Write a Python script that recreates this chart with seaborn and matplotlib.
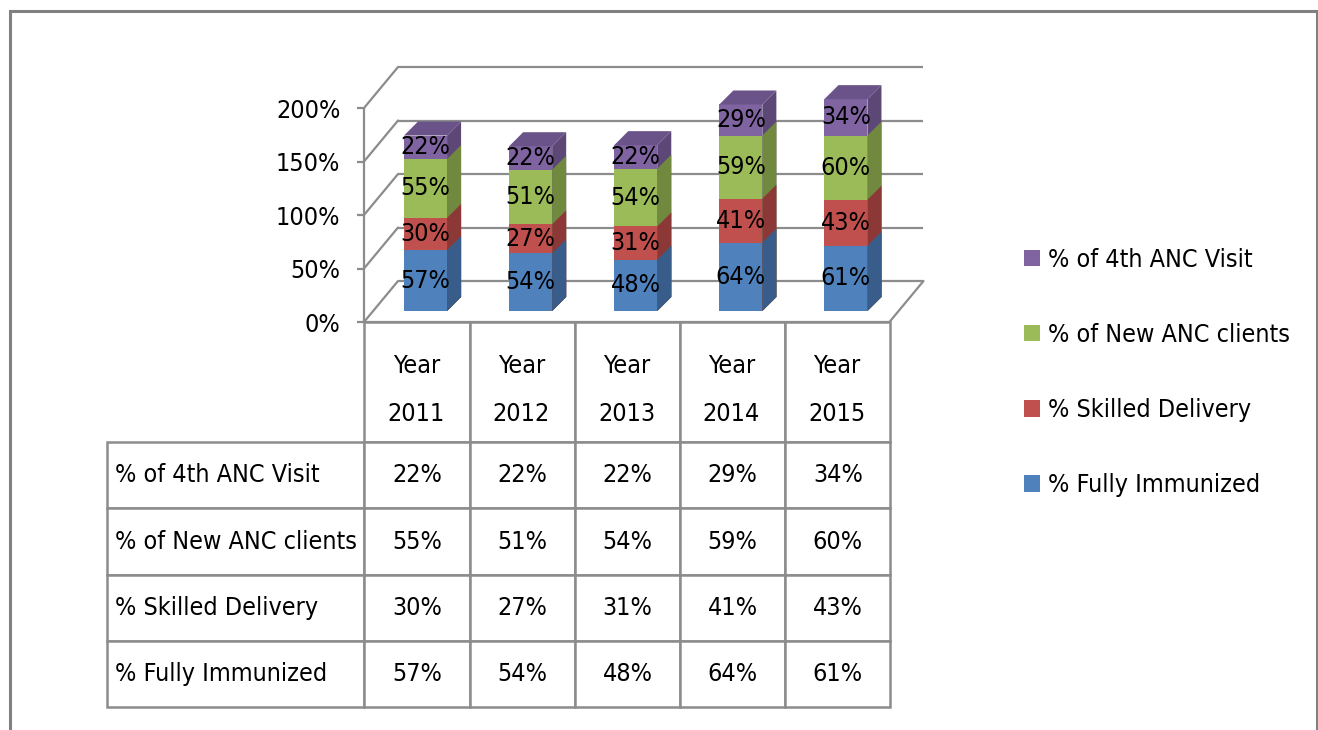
import numpy as np
import matplotlib
matplotlib.use("Agg")
import matplotlib.pyplot as plt
from matplotlib.patches import Polygon, Rectangle, Patch
from matplotlib import font_manager as fm
import seaborn as sns

# ---------------- data ----------------
years = ["Year\n2011", "Year\n2012", "Year\n2013", "Year\n2014", "Year\n2015"]
series_names = ["% Fully Immunized", "% Skilled Delivery", "% of New ANC clients", "% of 4th ANC Visit"]
fully_immunized = [57, 54, 48, 64, 61]
skilled_delivery = [30, 27, 31, 41, 43]
new_anc_clients = [55, 51, 54, 59, 60]
fourth_anc_visit = [22, 22, 22, 29, 34]
y_tick_values = [0, 50, 100, 150, 200]

front_colors = ["#4F81BD", "#C0504D", "#9BBB59", "#8064A2"]
side_colors = ["#385D8A", "#8C3836", "#71893F", "#5C4776"]
top_colors = ["#41699B", "#A04340", "#82A04A", "#6A5389"]

# ---------------- style / font choice ----------------
sns.set_style("white")


def pick_font():
    entries = fm.fontManager.ttflist
    names = {f.name for f in entries}
    if "Liberation Sans Narrow" in names:
        return "Liberation Sans Narrow", "normal"
    for fam in ["Noto Sans", "DejaVu Sans", "Open Sans", "Roboto", "Liberation Sans"]:
        for st in ["condensed", "semi-condensed", "extra-condensed"]:
            for f in entries:
                if f.name == fam and f.stretch == st and f.style == "normal" and f.weight in (400, "normal", "regular"):
                    return fam, st
    for f in entries:
        if ("Condensed" in f.name or "Narrow" in f.name) and f.style == "normal":
            return f.name, "normal"
    return "Liberation Sans", "normal"


FAM, STRETCH = pick_font()
plt.rcParams["font.family"] = [FAM, "DejaVu Sans"]
plt.rcParams["font.stretch"] = STRETCH
plt.rcParams["text.color"] = "black"
FS = 18
GRID = "#8C8C8C"

W, H = 1318, 730
fig = plt.figure(figsize=(W / 100, H / 100), dpi=100)
fig.patch.set_facecolor("white")

# geometry (pixel based layout)
X0, SX = 426.0, 105.0   # bar front-face centre of first category, px per category
Y0, SY = 311.0, 1.07    # bar baseline, px per percent
FX, FY = (417 - X0) / SX, (Y0 - 322) / SY          # front plane offset
BX, BY = FX + 34 / SX, FY + 41 / SY                 # back plane offset
BDX, BDY = 14 / SX, 14 / SY                          # bar depth
BAR_W = 43 / SX

ax_l, ax_r, ax_t, ax_b = 364, 935, 55, 322
ax = fig.add_axes([ax_l / W, 1 - ax_b / H, (ax_r - ax_l) / W, (ax_b - ax_t) / H])

stack = np.array([fully_immunized, skilled_delivery, new_anc_clients, fourth_anc_visit])
cum = stack.cumsum(axis=0)

# draw stacked bars: tallest cumulative first
order_k = [3, 2, 1, 0]
for k in order_k:
    sns.barplot(x=years, y=cum[k], order=years, color=front_colors[k], width=BAR_W,
                saturation=1, errorbar=None, linewidth=0, ax=ax, zorder=3)

patches = list(ax.patches)
n = len(years)
for j, k in enumerate(order_k):
    for i in range(n):
        p = patches[j * n + i]
        x0, y0 = p.get_x(), p.get_y()
        x1, y1 = x0 + p.get_width(), y0 + p.get_height()
        side = Polygon([(x1, y0), (x1 + BDX, y0 + BDY), (x1 + BDX, y1 + BDY), (x1, y1)],
                       closed=True, facecolor=side_colors[k], edgecolor="none", zorder=3)
        ax.add_patch(side)
        if k == 3:
            top = Polygon([(x0, y1), (x1, y1), (x1 + BDX, y1 + BDY), (x0 + BDX, y1 + BDY)],
                          closed=True, facecolor=top_colors[k], edgecolor="none", zorder=3)
            ax.add_patch(top)

# segment labels
for k in range(4):
    for i in range(n):
        ymid = cum[k][i] - stack[k][i] / 2
        ax.text(i, ymid, f"{stack[k][i]}%", ha="center", va="center", fontsize=FS,
                color="black", zorder=5)

# 3-D box: back wall, left wall, floor
xl_f, xr_f = -0.5 + FX, n - 0.5 + FX
xl_b, xr_b = -0.5 + BX, n - 0.5 + BX
for t in y_tick_values:
    ax.plot([xl_b, xr_b], [t + BY, t + BY], color=GRID, lw=1.6, zorder=1, solid_capstyle="butt")
    ax.plot([xl_f, xl_b], [t + FY, t + BY], color=GRID, lw=1.6, zorder=1)
ax.plot([xr_f, xr_b], [FY, BY], color=GRID, lw=1.6, zorder=1)
ax.plot([xl_f, xr_f], [FY, FY], color=GRID, lw=1.6, zorder=1, clip_on=False)

ax.set_xlim(xl_f, (ax_r - X0) / SX)
ax.set_ylim((Y0 - ax_b) / SY, (Y0 - ax_t) / SY)
ax.set_xticks([])
ax.set_xlabel("")
ax.set_ylabel("")
ax.set_yticks([t + FY for t in y_tick_values])
ax.set_yticklabels([f"{t}%" for t in y_tick_values], fontsize=FS)
ax.tick_params(axis="y", direction="out", length=5, width=1.6, color=GRID,
               labelcolor="black", pad=12, left=True)
for s in ["top", "right", "bottom"]:
    ax.spines[s].set_visible(False)
ax.spines["left"].set_color(GRID)
ax.spines["left"].set_linewidth(1.6)
ax.spines["left"].set_bounds(FY, 200 + FY)
ax.patch.set_alpha(0)

# ---------------- data table ----------------
tb_l, tb_r, tb_t, tb_b = 108, 890, 322, 707
LBL_W, COL_W, HDR_H, ROW_H = 256, 105, 120, 66
tot_w, tot_h = tb_r - tb_l, tb_b - tb_t
tax = fig.add_axes([tb_l / W, 1 - tb_b / H, tot_w / W, tot_h / H])
tax.axis("off")
tax.set_xlim(0, 1)
tax.set_ylim(0, 1)
row_labels = series_names[::-1]
rows = [fourth_anc_visit, new_anc_clients, skilled_delivery, fully_immunized]
cell_text = [[f"{v}%" for v in r] for r in rows]
table = tax.table(cellText=cell_text, rowLabels=row_labels, colLabels=[""] * len(years),
                  cellLoc="center", rowLoc="left",
                  bbox=[LBL_W / tot_w, 0, 1 - LBL_W / tot_w, 1])
table.auto_set_font_size(False)
table.set_fontsize(FS)
for (r, c), cell in table.get_celld().items():
    cell.set_edgecolor(GRID)
    cell.set_linewidth(1.8)
    cell.set_width((LBL_W if c == -1 else COL_W) / tot_w)
    cell.set_height((HDR_H if r == 0 else ROW_H) / tot_h)
    txt = cell.get_text()
    txt.set_fontsize(FS)
    txt.set_color("black")
    if c == -1:
        cell.PAD = 0.03

# header labels (Year / 20xx)
for i, lab in enumerate(years):
    cx = (LBL_W + COL_W * (i + 0.5)) / tot_w
    tax.text(cx, (tb_b - 390) / tot_h, lab, ha="center", va="center", fontsize=FS,
             linespacing=2.3, color="black")

# ---------------- legend ----------------
handles = [Patch(facecolor=front_colors[k], edgecolor="none") for k in [3, 2, 1, 0]]
labels = [series_names[k] for k in [3, 2, 1, 0]]
fig.legend(handles=handles, labels=labels, loc="center left",
           bbox_to_anchor=(1024 / W, 1 - 372.5 / H), frameon=False, fontsize=FS,
           handlelength=0.64, handleheight=0.64, handletextpad=0.3, labelspacing=2.05,
           borderpad=0, borderaxespad=0)

# outer frame
fig.patches.append(Rectangle((9.5 / W, -0.1), (1316.5 - 9.5) / W, 1 - 10.5 / H + 0.1,
                             transform=fig.transFigure, fill=False, edgecolor="#808080",
                             linewidth=2.2, zorder=10))

fig.savefig("out.png", dpi=100, facecolor="white")
